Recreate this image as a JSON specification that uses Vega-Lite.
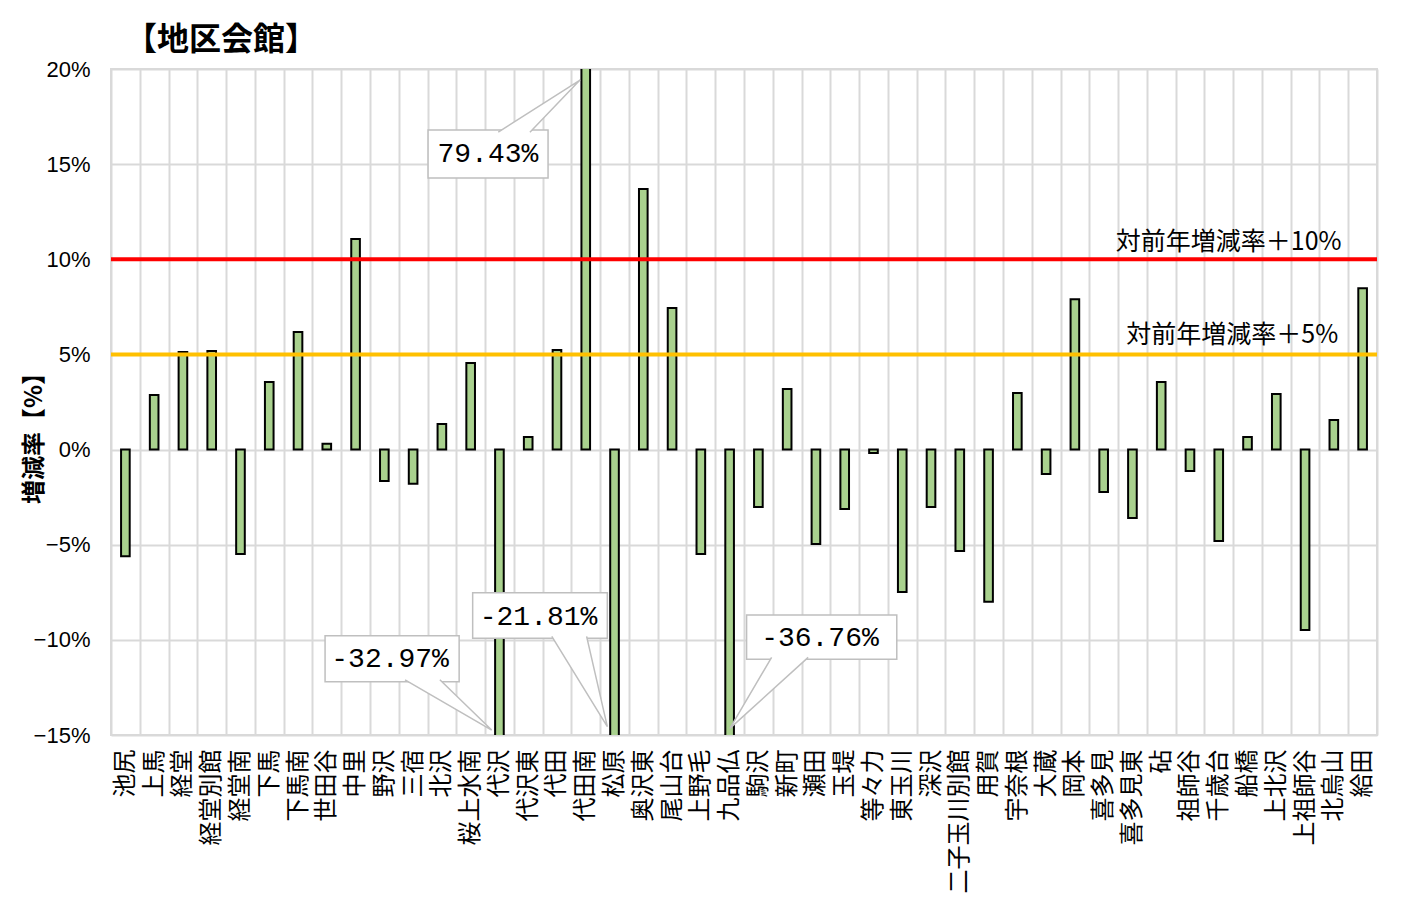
{
  "$schema": "https://vega.github.io/schema/vega-lite/v6.json",
  "autosize": {"type": "none"},
  "padding": {"left": 111, "top": 69, "right": 36, "bottom": 173},
  "width": 1266,
  "height": 666,
  "background": "white",
  "title": {
    "text": "【地区会館】",
    "anchor": "start",
    "frame": "group",
    "dx": 14,
    "dy": 40,
    "offset": 16,
    "baseline": "alphabetic",
    "font": "Noto Sans CJK JP",
    "fontSize": 32,
    "fontWeight": "bold",
    "color": "black"
  },
  "config": {
    "view": {"stroke": "#d9d9d9", "strokeWidth": 2},
    "axis": {"labelColor": "black", "titleColor": "black"}
  },
  "datasets": {
    "bars": [
      {"name": "池尻", "rate": -5.6},
      {"name": "上馬", "rate": 2.87},
      {"name": "経堂", "rate": 5.13},
      {"name": "経堂別館", "rate": 5.18},
      {"name": "経堂南", "rate": -5.49},
      {"name": "下馬", "rate": 3.55},
      {"name": "下馬南", "rate": 6.18},
      {"name": "世田谷", "rate": 0.3},
      {"name": "中里", "rate": 11.06},
      {"name": "野沢", "rate": -1.65},
      {"name": "三宿", "rate": -1.8},
      {"name": "北沢", "rate": 1.35},
      {"name": "桜上水南", "rate": 4.55},
      {"name": "代沢", "rate": -32.97},
      {"name": "代沢東", "rate": 0.66},
      {"name": "代田", "rate": 5.23},
      {"name": "代田南", "rate": 79.43},
      {"name": "松原", "rate": -21.81},
      {"name": "奥沢東", "rate": 13.69},
      {"name": "尾山台", "rate": 7.44},
      {"name": "上野毛", "rate": -5.49},
      {"name": "九品仏", "rate": -36.76},
      {"name": "駒沢", "rate": -3.02},
      {"name": "新町", "rate": 3.18},
      {"name": "瀬田", "rate": -4.96},
      {"name": "玉堤", "rate": -3.12},
      {"name": "等々力", "rate": -0.18},
      {"name": "東玉川", "rate": -7.48},
      {"name": "深沢", "rate": -3.02},
      {"name": "二子玉川別館", "rate": -5.33},
      {"name": "用賀", "rate": -8.0},
      {"name": "宇奈根", "rate": 2.97},
      {"name": "大蔵", "rate": -1.28},
      {"name": "岡本", "rate": 7.9},
      {"name": "喜多見", "rate": -2.23},
      {"name": "喜多見東", "rate": -3.59},
      {"name": "砧", "rate": 3.55},
      {"name": "祖師谷", "rate": -1.12},
      {"name": "千歳台", "rate": -4.8},
      {"name": "船橋", "rate": 0.66},
      {"name": "上北沢", "rate": 2.92},
      {"name": "上祖師谷", "rate": -9.48},
      {"name": "北烏山", "rate": 1.56},
      {"name": "給田", "rate": 8.48}
    ],
    "boxes": [
      {"id": "A", "x1": 11.02, "x2": 15.19, "y1": 14.27, "y2": 16.79, "tx": 13.1, "ty": 15.53, "label": "79.43%"},
      {"id": "B", "x1": 7.44, "x2": 12.1, "y1": -12.2, "y2": -9.79, "tx": 9.7, "ty": -11.0, "label": "-32.97%"},
      {"id": "C", "x1": 12.57, "x2": 17.25, "y1": -9.92, "y2": -7.52, "tx": 14.86, "ty": -8.78, "label": "-21.81%"},
      {"id": "D", "x1": 22.09, "x2": 27.31, "y1": -11.02, "y2": -8.69, "tx": 24.64, "ty": -9.92, "label": "-36.76%"}
    ],
    "wedges": [
      {"id": "A", "ord": 1, "wx": 13.46, "wy": 16.68},
      {"id": "A", "ord": 2, "wx": 16.3, "wy": 19.42},
      {"id": "A", "ord": 3, "wx": 14.56, "wy": 16.68},
      {"id": "B", "ord": 1, "wx": 10.22, "wy": -12.1},
      {"id": "B", "ord": 2, "wx": 13.23, "wy": -14.74},
      {"id": "B", "ord": 3, "wx": 11.43, "wy": -12.1},
      {"id": "C", "ord": 1, "wx": 15.32, "wy": -9.82},
      {"id": "C", "ord": 2, "wx": 17.25, "wy": -14.56},
      {"id": "C", "ord": 3, "wx": 16.53, "wy": -9.82},
      {"id": "D", "ord": 1, "wx": 22.96, "wy": -10.92},
      {"id": "D", "ord": 2, "wx": 21.51, "wy": -14.65},
      {"id": "D", "ord": 3, "wx": 24.23, "wy": -10.92}
    ],
    "thresholds": [
      {"level": 10, "label": "対前年増減率＋10%", "lx": 42.77, "ly": 10.92, "color": "red"},
      {"level": 5, "label": "対前年増減率＋5%", "lx": 42.65, "ly": 6.02, "color": "orange"}
    ]
  },
  "encoding": {
    "y": {
      "type": "quantitative",
      "scale": {"domain": [-15, 20], "nice": false, "zero": false}
    }
  },
  "layer": [
    {
      "data": {"name": "bars"},
      "mark": {"type": "bar", "fill": "#a9d18e", "stroke": "black", "strokeWidth": 2, "width": {"band": 0.3}, "clip": true},
      "encoding": {
        "x": {
          "field": "name",
          "type": "nominal",
          "sort": null,
          "scale": {"paddingInner": 0, "paddingOuter": 0},
          "axis": {
            "title": null,
            "grid": true,
            "gridColor": "#d9d9d9",
            "gridWidth": 2,
            "tickBand": "extent",
            "ticks": false,
            "tickSize": 0,
            "domain": false,
            "labelAngle": -90,
            "labelPadding": 14,
            "labelFont": "Noto Sans CJK JP",
            "labelFontSize": 24,
            "labelColor": "black"
          }
        },
        "y": {
          "field": "rate",
          "type": "quantitative",
          "axis": {
            "title": "増減率【%】",
            "titleFont": "Noto Sans CJK JP",
            "titleFontSize": 24,
            "titleFontWeight": "bold",
            "titleX": -77,
            "titleY": 363,
            "titleBaseline": "middle",
            "titleAngle": -90,
            "values": [-15, -10, -5, 0, 5, 10, 15, 20],
            "format": "d",
            "labelExpr": "datum.label + '%'",
            "grid": true,
            "gridColor": "#d9d9d9",
            "gridWidth": 2,
            "ticks": false,
            "tickSize": 0,
            "domain": false,
            "labelPadding": 21,
            "labelFont": "Liberation Sans",
            "labelFontSize": 22
          }
        }
      }
    },
    {
      "mark": {"type": "rule", "stroke": "black", "strokeWidth": 2},
      "encoding": {"y": {"datum": 0}}
    },
    {
      "data": {"name": "thresholds"},
      "mark": {"type": "rule", "strokeWidth": 4},
      "encoding": {
        "y": {"field": "level", "type": "quantitative"},
        "color": {
          "field": "color",
          "type": "nominal",
          "scale": {"domain": ["red", "orange"], "range": ["#ff0000", "#ffc000"]},
          "legend": null
        }
      }
    },
    {
      "data": {"name": "thresholds"},
      "mark": {"type": "text", "align": "right", "baseline": "middle", "font": "Noto Sans CJK JP", "fontSize": 25, "color": "black"},
      "encoding": {
        "x": {"field": "lx", "type": "quantitative", "scale": {"domain": [0, 44], "nice": false, "zero": false}, "axis": null},
        "y": {"field": "ly", "type": "quantitative"},
        "text": {"field": "label"}
      }
    },
    {
      "data": {"name": "boxes"},
      "mark": {"type": "rect", "fill": "white", "stroke": "#bfbfbf", "strokeWidth": 1.5},
      "encoding": {
        "x": {"field": "x1", "type": "quantitative", "scale": {"domain": [0, 44], "nice": false, "zero": false}, "axis": null},
        "x2": {"field": "x2"},
        "y": {"field": "y1", "type": "quantitative"},
        "y2": {"field": "y2"}
      }
    },
    {
      "data": {"name": "wedges"},
      "mark": {"type": "line", "stroke": "#bfbfbf", "strokeWidth": 1.5, "fill": "white"},
      "encoding": {
        "x": {"field": "wx", "type": "quantitative", "scale": {"domain": [0, 44], "nice": false, "zero": false}, "axis": null},
        "y": {"field": "wy", "type": "quantitative"},
        "detail": {"field": "id"},
        "order": {"field": "ord"}
      }
    },
    {
      "data": {"name": "boxes"},
      "mark": {"type": "text", "align": "center", "baseline": "middle", "font": "Liberation Mono", "fontSize": 28, "color": "black"},
      "encoding": {
        "x": {"field": "tx", "type": "quantitative", "scale": {"domain": [0, 44], "nice": false, "zero": false}, "axis": null},
        "y": {"field": "ty", "type": "quantitative"},
        "text": {"field": "label"}
      }
    }
  ],
  "resolve": {"scale": {"x": "independent", "color": "independent"}, "axis": {"x": "independent"}}
}
